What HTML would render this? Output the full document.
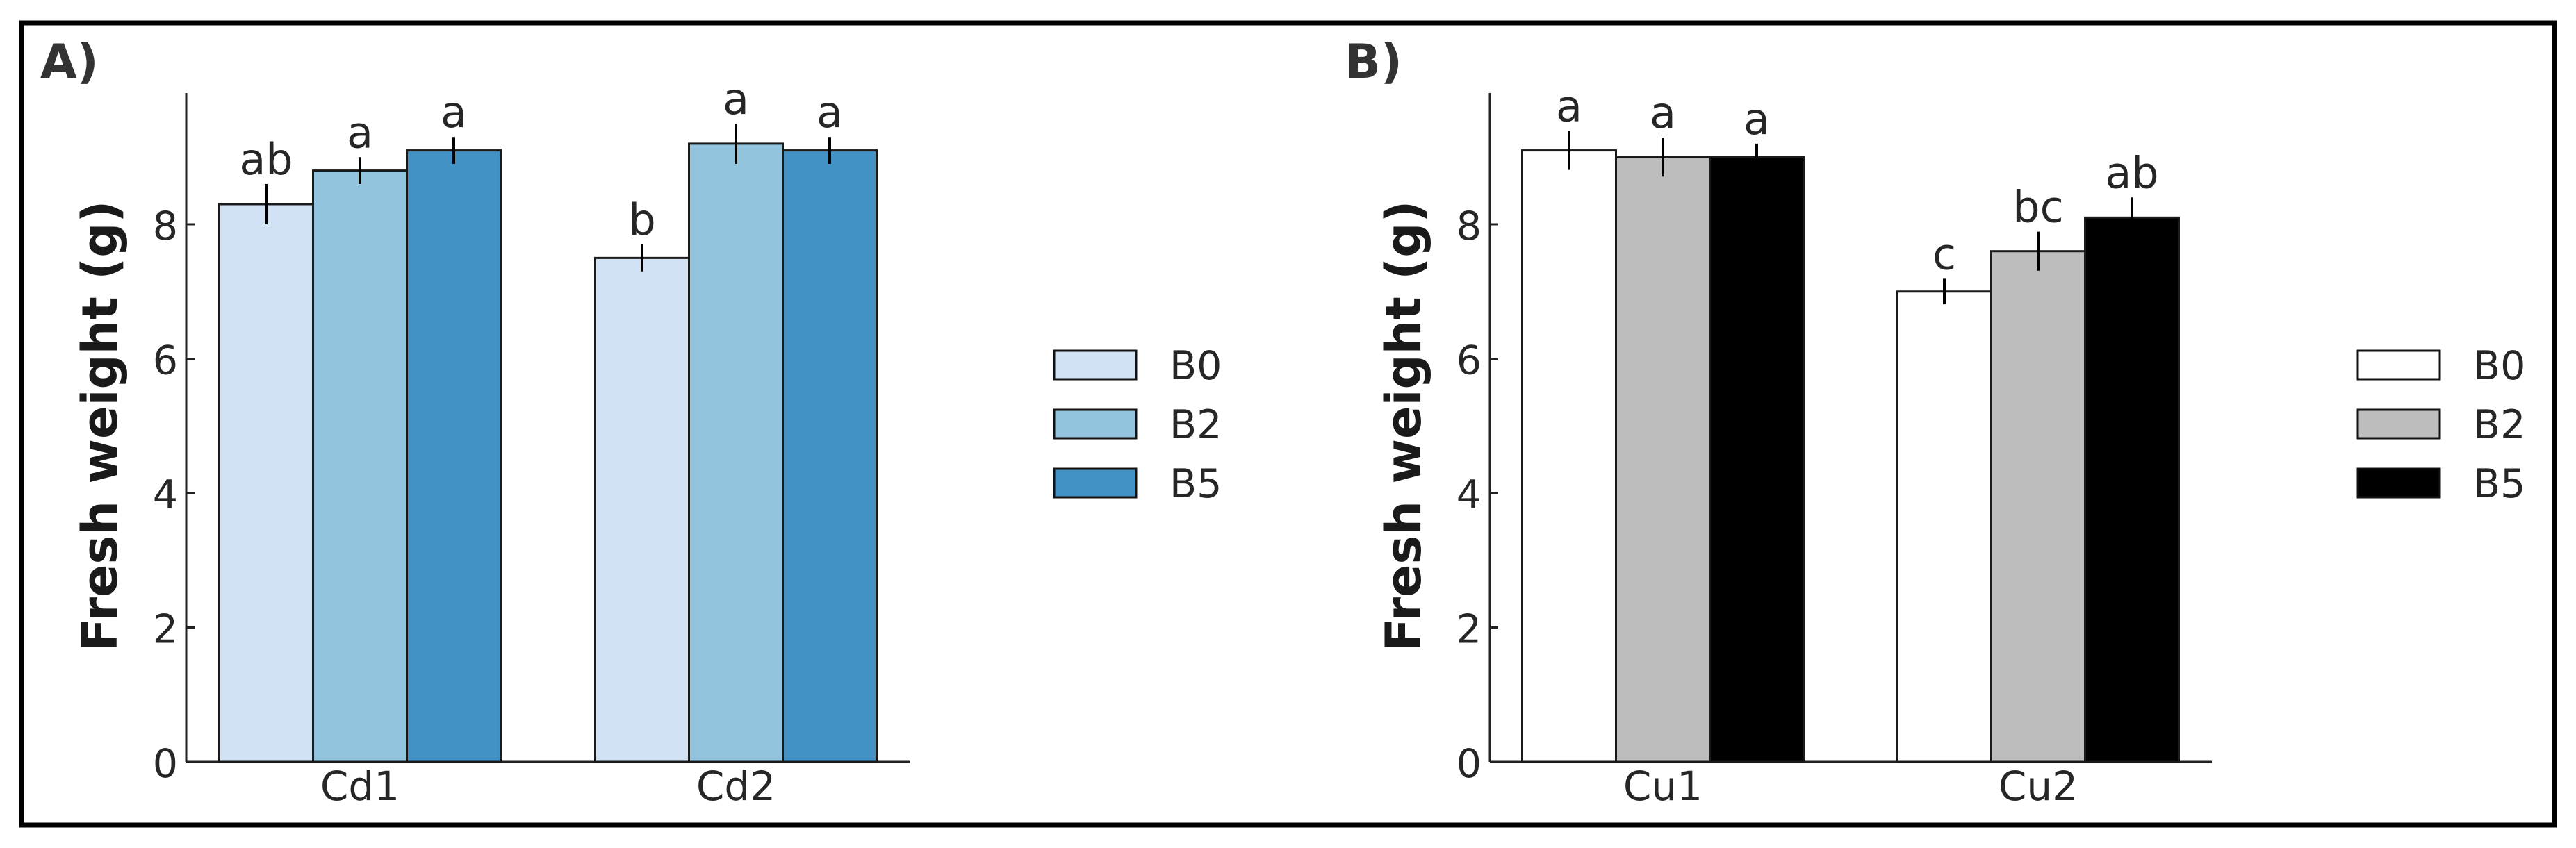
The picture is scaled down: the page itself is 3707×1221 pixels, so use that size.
<!DOCTYPE html>
<html><head><meta charset="utf-8"><style>
html,body{margin:0;padding:0;background:#fff}
svg{display:block}
text{font-family:"DejaVu Sans","Liberation Sans",sans-serif;fill:#262626}
</style></head><body>
<svg id="fig" width="3707" height="1221" viewBox="0 0 3707 1221" xmlns="http://www.w3.org/2000/svg">
<rect x="31" y="33" width="3645" height="1155" fill="#fff" stroke="#000" stroke-width="7"/>
</svg>
<script>
const catsA = ["Cd1","Cd2"];
const catsB = ["Cu1","Cu2"];
const seriesNames = ["B0","B2","B5"];
const valuesA = [[8.3,7.5],[8.8,9.2],[9.1,9.1]];
const errorsA = [[0.3,0.2],[0.2,0.3],[0.2,0.2]];
const lettersA = [["ab","b"],["a","a"],["a","a"]];
const valuesB = [[9.1,7.0],[9.0,7.6],[9.0,8.1]];
const errorsB = [[0.29,0.19],[0.29,0.29],[0.2,0.3]];
const lettersB = [["a","c"],["a","bc"],["a","ab"]];
const yTicks = [0,2,4,6,8];
const colorsA = ["#d0e2f3","#93c4de","#4292c6"];
const colorsB = ["#ffffff","#bdbdbd","#000000"];

const NS="http://www.w3.org/2000/svg";
const svg=document.getElementById('fig');
function mk(tag,attrs,parent){const e=document.createElementNS(NS,tag);for(const k in attrs)e.setAttribute(k,attrs[k]);(parent||svg).appendChild(e);return e;}

function panel(cfg){
  const g=mk('g',{});
  
  
  const y0=1097, unit=96.75;
  const yScale=v=>y0-v*unit;
  const bw=135;
  const xCenter=i=>cfg.c0+i*(cfg.c1-cfg.c0);
  const ya=mk('line',{x1:cfg.ax,y1:134,x2:cfg.ax,y2:y0,stroke:'#222','stroke-width':3},g);
  
  
  const xa=mk('line',{x1:cfg.ax,y1:y0,x2:cfg.axEnd,y2:y0,stroke:'#222','stroke-width':3},g);
  
  
  yTicks.forEach(t=>{
    const y=yScale(t);
    const tk=mk('line',{x1:cfg.ax,y1:y,x2:cfg.ax+12,y2:y,stroke:'#222','stroke-width':3},g);
    
    
    const tl=mk('text',{x:cfg.ax-12,y:y+22,'text-anchor':'end','font-size':57},g);
    tl.textContent=t;
    
    
  });
  const yt=mk('text',{x:0,y:0,'text-anchor':'middle','font-size':70,'font-weight':'bold',transform:`translate(${cfg.ax-100},${yScale(5)}) rotate(-90)`,style:'fill:#1a1a1a'},g);
  yt.textContent='Fresh weight (g)';
  
  
  const pl=mk('text',{x:cfg.labelX,y:112,'font-size':68,'font-weight':'bold',style:'fill:#333'},g);
  pl.textContent=cfg.label;
  
  
  cfg.cats.forEach((c,i)=>{
    const cx=xCenter(i);
    const tk=mk('line',{x1:cx,y1:y0,x2:cx,y2:y0-12,stroke:'#222','stroke-width':3},g);
    
    
    const cl=mk('text',{x:cx,y:y0+55,'text-anchor':'middle','font-size':58},g);
    cl.textContent=c;
    
    
    seriesNames.forEach((s,j)=>{
      const v=cfg.values[j][i], e=cfg.errors[j][i];
      const x=cx+(j-1.5)*bw;
      const r=mk('rect',{x:x,y:yScale(v),width:bw,height:y0-yScale(v),fill:cfg.colors[j],stroke:'#1a1a1a','stroke-width':3},g);
      
      
      const ex=x+bw/2;
      const el=mk('line',{x1:ex,y1:yScale(v+e),x2:ex,y2:yScale(v-e),stroke:'#000','stroke-width':4},g);
      
      
      const lt=mk('text',{x:ex,y:yScale(v+e)-14,'text-anchor':'middle','font-size':62},g);
      lt.textContent=cfg.letters[j][i];
      
      
    });
  });
  seriesNames.forEach((s,j)=>{
    const ly=505+j*85;
    const lr=mk('rect',{x:cfg.legX,y:ly,width:118,height:41,fill:cfg.colors[j],stroke:'#111','stroke-width':3},g);
    
    
    const lt=mk('text',{x:cfg.legX+166,y:ly+41,'font-size':57},g);
    lt.textContent=s;
    
    
  });
}
panel({name:'panel-a',label:'A)',labelX:58,ax:268,axEnd:1309,c0:518,c1:1059,cats:catsA,values:valuesA,errors:errorsA,letters:lettersA,colors:colorsA,legX:1517});
panel({name:'panel-b',label:'B)',labelX:1935,ax:2144,axEnd:3183,c0:2393,c1:2933,cats:catsB,values:valuesB,errors:errorsB,letters:lettersB,colors:colorsB,legX:3393});
</script>
</body></html>
